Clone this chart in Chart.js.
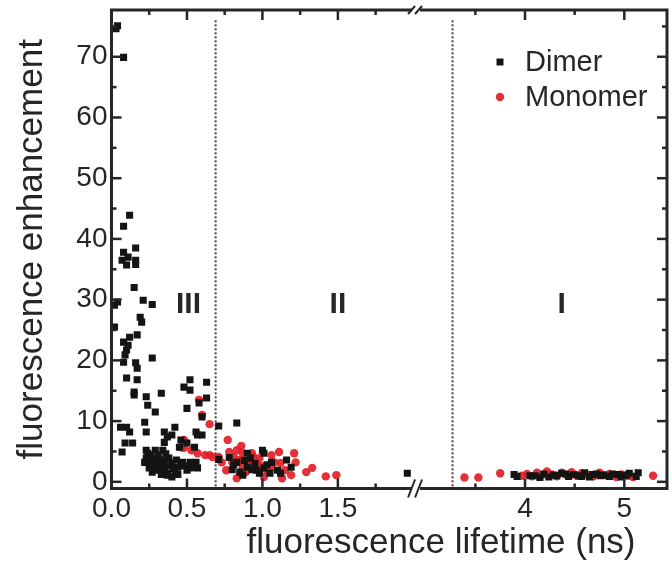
<!DOCTYPE html>
<html lang="en">
<head>
<meta charset="UTF-8" />
<title>Fluorescence enhancement vs lifetime</title>
<script src="https://cdn.jsdelivr.net/npm/chart.js@4"></script>
<style>
  html, body { margin: 0; padding: 0; background: #fff; }
</style>
</head>
<body>
<canvas id="chart" width="672" height="565"></canvas>
<script>
// points: [lifetime (ns), enhancement]
const dimerPoints = [
  [0.04,75.1],[0.03,74.6],[0.08,69.9],[0.12,43.9],[0.08,42.1],[0.08,37.8],[0.16,38.5],[0.07,36.5],
  [0.10,35.7],[0.16,36.5],[0.16,35.8],[0.11,37.0],[0.15,32.0],[0.21,29.9],[0.27,29.2],[0.04,29.6],
  [0.02,29.1],[0.19,27.1],[0.20,26.3],[0.02,25.5],[0.17,24.2],[0.12,23.8],[0.08,23.0],[0.11,22.5],
  [0.10,21.7],[0.09,20.9],[0.27,20.4],[0.16,19.6],[0.08,19.7],[0.17,18.7],[0.10,17.1],[0.17,16.8],
  [0.15,14.8],[0.15,14.3],[0.33,14.6],[0.23,14.0],[0.24,12.6],[0.29,11.5],[0.48,15.6],[0.52,15.1],
  [0.52,16.8],[0.63,16.4],[0.63,13.8],[0.58,13.0],[0.60,10.7],[0.50,12.1],[0.06,9.0],[0.10,9.0],
  [0.12,8.2],[0.22,9.8],[0.23,8.2],[0.09,6.4],[0.14,6.4],[0.07,4.9],[0.35,8.2],[0.37,7.4],
  [0.42,9.0],[0.40,7.7],[0.35,6.5],[0.46,6.9],[0.50,6.4],[0.45,5.7],[0.56,8.2],[0.57,7.7],
  [0.60,7.7],[0.55,5.7],[0.56,3.2],[0.57,2.3],[0.52,3.2],
  [0.23,5.2],[0.24,4.7],[0.27,3.9],[0.29,5.2],[0.31,4.4],[0.33,3.6],[0.34,2.8],[0.35,2.3],
  [0.37,1.4],[0.40,0.8],[0.42,1.6],[0.44,2.4],[0.46,2.8],[0.50,1.9],[0.53,3.1],[0.25,3.1],
  [0.22,3.2],[0.29,2.4],[0.32,1.9],[0.37,1.1],[0.27,1.6],[0.23,3.9],[0.34,5.2],[0.38,3.9],
  [0.40,3.1],[0.43,3.6],[0.47,3.2],[0.52,2.3],[0.55,2.4],[0.31,3.1],
  [0.26,4.4],[0.28,3.2],[0.30,2.0],[0.33,1.2],[0.35,3.4],[0.38,2.6],[0.41,2.2],[0.44,1.2],
  [0.48,2.6],[0.25,2.3],[0.36,4.6],[0.30,3.6],
  [0.71,9.2],[0.83,9.7],[0.71,3.7],[0.78,4.0],[0.83,3.2],[0.90,4.7],[1.00,5.2],[1.01,4.7],
  [0.81,2.8],[0.90,2.4],[0.96,1.9],[1.01,2.3],[1.03,2.8],[1.10,1.9],[1.16,3.6],[1.19,2.4],
  [0.85,1.6],[0.98,1.4],[1.12,1.4],[0.88,3.5],[0.92,3.9],[1.06,3.2],[1.96,1.4],
  [0.87,1.1],[0.95,3.0],[1.05,1.4],[0.80,2.0],[0.93,2.0],
  [3.89,1.2],[3.92,0.9],[4.10,1.0],[4.19,1.3],[4.24,0.8],[4.29,1.1],[4.37,1.4],[4.44,0.9],
  [4.49,1.2],[4.54,1.0],[4.60,1.5],[4.65,0.8],[4.72,1.3],[4.79,1.1],[4.85,0.9],[4.94,1.2],
  [4.99,1.0],[5.05,1.4],[5.12,0.9],[5.14,1.5],[4.05,1.0],[4.15,0.7],[4.32,1.0],[4.41,1.3],
  [4.57,0.9],[4.68,1.2],[4.76,1.0],[4.88,1.3],[4.97,0.8],[5.02,1.1]
];
const monomerPoints = [
  [0.58,13.5],[0.60,11.0],[0.65,9.5],[0.46,5.7],[0.53,5.2],[0.57,4.7],[0.62,4.4],[0.65,4.4],
  [0.67,4.1],[0.48,6.9],[0.48,5.6],[0.71,4.1],[0.73,3.2],[0.77,6.9],[0.86,5.9],[0.83,5.2],
  [0.87,4.7],[0.81,4.1],[0.94,4.1],[0.96,3.2],[1.06,4.4],[1.08,3.2],[1.12,3.1],[0.89,1.6],
  [1.01,0.8],[1.06,2.4],[1.13,0.6],[1.19,1.1],[1.21,4.7],[1.22,3.2],[1.29,1.6],[1.33,2.3],
  [1.42,0.9],[1.49,1.1],[0.83,0.6],[0.80,3.2],[0.87,2.4],[0.90,3.2],[0.93,4.7],[0.91,2.6],
  [0.99,2.6],[1.03,1.9],[0.78,4.9],[0.85,3.6],[0.98,3.9],[1.15,1.9],[0.76,1.9],[1.11,4.9],
  [3.39,0.7],[3.53,0.7],[3.75,1.4],[3.97,1.0],[4.02,1.3],[4.07,0.9],[4.12,1.5],[4.17,1.1],
  [4.22,1.7],[4.27,1.2],[4.32,0.9],[4.37,1.5],[4.42,1.1],[4.47,1.6],[4.52,1.0],[4.57,1.4],
  [4.62,1.2],[4.69,0.9],[4.75,1.5],[4.80,1.1],[4.85,1.3],[4.92,0.8],[4.97,1.2],[5.04,1.0],
  [5.09,0.8],[5.29,1.0]
];

const xTickValues = [0, 0.5, 1.0, 1.5, 4, 5];
const xTickLabels = ['0.0', '0.5', '1.0', '1.5', '4', '5'];
const xMinorTicks = [0.25, 0.75, 1.25, 1.75, 3.5, 4.5];
const yTickValues = [0, 10, 20, 30, 40, 50, 60, 70];
const yMinorTicks = [5, 15, 25, 35, 45, 55, 65, 75];

const regionLabels = ['III', 'II', 'I'];
const regionX = [0.51, 1.5, 4.37];
const regionY = 29.1;
const boundaryX = [0.69, 3.27];
const boundaryTop = 76;

// broken x axis: 0..2.0 drawn at full scale, 2.93..5.43 compressed
const X_CUT_LO = 2.0;
const X_CUT_HI = 2.93;
const X_GAP = 0.036;
const RIGHT_RATIO = 100 / 152;
const X_MAX = 5.43;
const Y_MIN = -1.1;
const Y_MAX = 77.7;

const FONT = '"Liberation Sans", Arial, Helvetica, sans-serif';
const INK = '#262626';

function toAxis(x) {
  if (x < (X_CUT_LO + X_CUT_HI) / 2) return x;
  return X_CUT_LO + X_GAP + (x - X_CUT_HI) * RIGHT_RATIO;
}

function line(ctx, x1, y1, x2, y2) {
  ctx.beginPath(); ctx.moveTo(x1, y1); ctx.lineTo(x2, y2); ctx.stroke();
}

const decor = {
  id: 'decor',
  beforeDatasetsDraw(chart) {
    const { ctx, chartArea: a, scales: { x, y } } = chart;
    ctx.save();
    ctx.strokeStyle = '#444';
    ctx.lineWidth = 2;
    ctx.setLineDash([2, 2]);
    boundaryX.forEach(b => {
      const px = x.getPixelForValue(toAxis(b));
      line(ctx, px, y.getPixelForValue(boundaryTop), px, a.bottom);
    });
    ctx.setLineDash([]);
    ctx.fillStyle = INK;
    ctx.font = 'bold 30px ' + FONT;
    ctx.textAlign = 'center';
    ctx.textBaseline = 'middle';
    regionLabels.forEach((t, i) => {
      ctx.fillText(t, x.getPixelForValue(toAxis(regionX[i])), y.getPixelForValue(regionY));
    });
    ctx.restore();
  },
  afterDraw(chart) {
    const { ctx, chartArea: a, scales: { x, y } } = chart;
    ctx.save();
    // frame
    ctx.strokeStyle = INK;
    ctx.lineWidth = 3;
    ctx.strokeRect(a.left, a.top, a.right - a.left, a.bottom - a.top);
    // inward ticks on all four sides
    ctx.lineWidth = 2.5;
    const xt = (v, len) => {
      const px = x.getPixelForValue(toAxis(v));
      line(ctx, px, a.bottom, px, a.bottom - len);
      line(ctx, px, a.top, px, a.top + len);
    };
    const yt = (v, len) => {
      const py = y.getPixelForValue(v);
      line(ctx, a.left, py, a.left + len, py);
      line(ctx, a.right, py, a.right - len, py);
    };
    xTickValues.forEach(v => xt(v, 10));
    xMinorTicks.forEach(v => xt(v, 5));
    yTickValues.forEach(v => yt(v, 10));
    yMinorTicks.forEach(v => yt(v, 5));
    // axis break marks
    const bx = x.getPixelForValue((toAxis(X_CUT_LO) + toAxis(X_CUT_HI)) / 2);
    [[a.bottom, 9], [a.top, 4]].forEach(([by, h]) => {
      ctx.fillStyle = '#fff';
      ctx.fillRect(bx - 4, by - 2.5, 8, 5);
      ctx.lineWidth = 2;
      line(ctx, bx - 8, by + h, bx - 1, by - h);
      line(ctx, bx - 1, by + h, bx + 6, by - h);
    });
    // legend
    ctx.font = '29px ' + FONT;
    ctx.textAlign = 'left';
    ctx.textBaseline = 'middle';
    chart.data.datasets.forEach((ds, i) => {
      const mx = a.right - 167, my = a.top + 52 + i * 35;
      ctx.fillStyle = ds.backgroundColor;
      if (ds.pointStyle === 'rect') {
        ctx.fillRect(mx - 3.5, my - 3.5, 7, 7);
      } else {
        ctx.beginPath(); ctx.arc(mx, my, ds.pointRadius, 0, Math.PI * 2); ctx.fill();
      }
      ctx.fillStyle = INK;
      ctx.fillText(ds.label, mx + 25, my + 1);
    });
    // x axis title, sits right of centre in the original
    ctx.font = '35px ' + FONT;
    ctx.textAlign = 'center';
    ctx.textBaseline = 'alphabetic';
    ctx.fillText('fluorescence lifetime (ns)', 441, 553);
    ctx.restore();
  }
};

const ctx = document.getElementById('chart').getContext('2d');
const chart = new Chart(ctx, {
  type: 'scatter',
  data: {
    datasets: [
      {
        label: 'Dimer',
        data: dimerPoints.map(p => ({ x: toAxis(p[0]), y: p[1] })),
        pointStyle: 'rect',
        pointRadius: 5,
        backgroundColor: '#141414',
        borderWidth: 0
      },
      {
        label: 'Monomer',
        data: monomerPoints.map(p => ({ x: toAxis(p[0]), y: p[1] })),
        pointStyle: 'circle',
        pointRadius: 4.2,
        backgroundColor: 'rgba(226, 30, 40, 0.92)',
        borderWidth: 0
      }
    ]
  },
  options: {
    responsive: false,
    animation: false,
    layout: { padding: { top: 10, right: 1, left: 0, bottom: 0 } },
    plugins: { legend: { display: false }, tooltip: { enabled: false } },
    scales: {
      x: {
        type: 'linear',
        min: 0,
        max: toAxis(X_MAX),
        afterBuildTicks: s => { s.ticks = xTickValues.map(v => ({ value: toAxis(v) })); },
        afterFit: s => { s.height = 76.5; s.paddingLeft = 0; s.paddingRight = 0; },
        grid: { display: false, drawTicks: false },
        border: { display: false },
        ticks: {
          padding: 4,
          color: INK,
          autoSkip: false,
          maxRotation: 0,
          font: { family: FONT, size: 28 },
          callback: (v, i) => xTickLabels[i]
        }
      },
      y: {
        type: 'linear',
        min: Y_MIN,
        max: Y_MAX,
        afterBuildTicks: s => { s.ticks = yTickValues.map(v => ({ value: v })); },
        afterFit: s => { s.width = 111.5; s.paddingTop = 0; s.paddingBottom = 0; },
        grid: { display: false, drawTicks: false },
        border: { display: false },
        ticks: {
          padding: 4,
          color: INK,
          font: { family: FONT, size: 28 }
        },
        title: {
          display: true,
          text: 'fluorescence enhancement',
          color: INK,
          font: { family: FONT, size: 35 },
          padding: { top: 11, bottom: 0 }
        }
      }
    }
  },
  plugins: [decor]
});
</script>
</body>
</html>
